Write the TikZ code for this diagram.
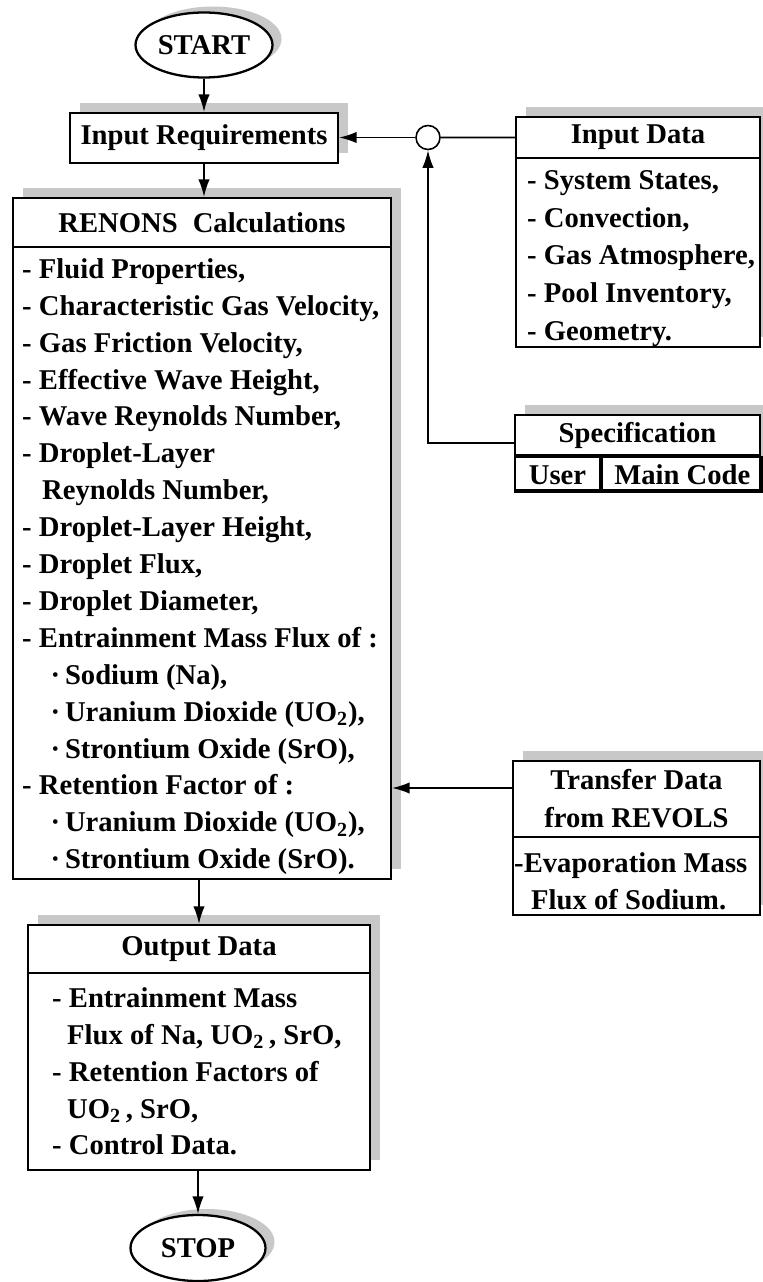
\documentclass[tikz,border=0pt]{standalone}
\usepackage{fontspec}
\setmainfont{Liberation Serif}
\usepackage{tikz}
\usetikzlibrary{shapes.geometric, arrows.meta, shadows, positioning}
\newcommand{\dotitem}{\hspace*{0.57cm}·\,}
\tikzset{
  panel/.style={
    draw,
    fill=white,
    line width=1.3pt,
    general shadow={shadow xshift=0.2cm, shadow yshift=0.2cm, fill=shadowgray}},
  headbox/.style={
    draw,
    line width=1.3pt,
    align=center,
    inner sep=0pt,
    anchor=north},
  terminal/.style={
    ellipse,
    draw,
    fill=white,
    line width=1.3pt,
    inner sep=0pt,
    general shadow={shadow xshift=0.18cm, shadow yshift=0.12cm, fill=shadowgray}},
  listing/.style={
    align=left,
    inner sep=0pt},
  flow/.style={
    line width=0.9pt,
    -{Latex[length=10pt, width=6.5pt]}}
}

\begin{document}
\begin{tikzpicture}[font=\fontsize{16.3}{21}\selectfont\bfseries]
  \definecolor{shadowgray}{RGB}{200, 200, 200}

  \useasboundingbox (0,0) rectangle (15.24,-25.64);

  % Start and stop
  \node[terminal, minimum width=2.74cm, minimum height=1.30cm] (start) at (4.08,-0.90) {START};
  \node[terminal, minimum width=2.70cm, minimum height=1.32cm] (stop) at (3.96,-24.96) {STOP};

  % Input Requirements
  \node[panel, minimum width=5.36cm, minimum height=1.0cm] (inreq) at (4.08,-2.76) {Input Requirements};

  % RENONS
  \node[panel, minimum width=7.56cm, minimum height=13.62cm] (renons) at (4.04,-10.77) {};
  \node[headbox, minimum width=7.56cm, minimum height=0.98cm] (renonshead) at (renons.north) {RENONS\hspace{0.3cm}Calculations};
  \node[listing, below right=0.08cm and 0.2cm of renonshead.south west] (renonslist) {\strut- Fluid Properties,\\
    - Characteristic Gas Velocity,\\
    - Gas Friction Velocity,\\
    - Effective Wave Height,\\
    - Wave Reynolds Number,\\
    - Droplet-Layer\\
    \hspace*{0.4cm}Reynolds Number,\\
    - Droplet-Layer Height,\\
    - Droplet Flux,\\
    - Droplet Diameter,\\
    - Entrainment Mass Flux of :\\
    \dotitem Sodium (Na),\\
    \dotitem Uranium Dioxide (UO\textsubscript{2}),\\
    \dotitem Strontium Oxide (SrO),\\
    - Retention Factor of :\\
    \dotitem Uranium Dioxide (UO\textsubscript{2}),\\
    \dotitem Strontium Oxide (SrO).};

  % Output Data
  \node[panel, minimum width=6.84cm, minimum height=4.9cm] (output) at (3.98,-20.95) {};
  \node[headbox, minimum width=6.84cm, minimum height=0.96cm] (outputhead) at (output.north) {Output Data};
  \node[listing, below right=0.14cm and 0.5cm of outputhead.south west] (outputlist) {\strut- Entrainment Mass\\
    \hspace*{0.3cm}Flux of Na, UO\textsubscript{2}\,, SrO,\\
    - Retention Factors of\\
    \hspace*{0.3cm}UO\textsubscript{2}\,, SrO,\\
    - Control Data.};

  % Input Data
  \node[panel, minimum width=4.88cm, minimum height=4.6cm] (indata) at (12.76,-4.64) {};
  \node[headbox, minimum width=4.88cm, minimum height=0.82cm] (indatahead) at (indata.north) {Input Data};
  \node[listing, font=\fontsize{16.3}{21.6}\selectfont\bfseries, below right=0.06cm and 0.24cm of indatahead.south west] (indatalist) {\strut- System States,\\
    - Convection,\\
    - Gas Atmosphere,\\
    - Pool Inventory,\\
    - Geometry.};

  % Specification
  \node[panel, minimum width=4.9cm, minimum height=1.5cm] (spec) at (12.75,-9.05) {};
  \node[headbox, minimum width=4.9cm, minimum height=0.8cm] (spechead) at (spec.north) {Specification};
  \node[headbox, anchor=north west, minimum width=1.7cm, minimum height=0.7cm] (user) at (spechead.south west) {User};
  \node[headbox, anchor=north west, minimum width=3.2cm, minimum height=0.7cm] (maincode) at (user.north east) {Main Code};

  % Transfer Data
  \node[panel, minimum width=4.94cm, minimum height=3.08cm] (xfer) at (12.73,-16.76) {};
  \node[headbox, font=\fontsize{16.3}{21.6}\selectfont\bfseries, minimum width=4.94cm, minimum height=1.52cm] (xferhead) at (xfer.north) {Transfer Data\\from REVOLS};
  \node[listing, below right=0.16cm and 0.04cm of xferhead.south west] (xferlist) {\strut-Evaporation Mass\\
    \hspace*{0.34cm}Flux of Sodium.};

  % Junction
  \node[circle, draw, line width=0.9pt, minimum size=0.48cm, inner sep=0pt] (junction) at (8.56,-2.75) {};

  % Main flow
  \draw[flow] (start) -- (inreq);
  \draw[flow] (inreq.south) -- (inreq.south |- renons.north);
  \draw[flow] (renons.south -| output.north) -- (output.north);
  \draw[flow] (output.south -| stop.north) -- (stop.north);

  % Inputs
  \draw[line width=0.9pt] (indatahead.west) -- (junction.east);
  \draw[flow] (junction.west) -- (junction.west -| inreq.east);
  \coordinate (specout) at ([yshift=0.19cm]spec.west);
  \draw[flow] (specout) -| (junction.south);
  \coordinate (xferout) at ([yshift=0.22cm]xferhead.west);
  \draw[flow] (xferout) -- (xferout -| renons.east);
\end{tikzpicture}
\end{document}
